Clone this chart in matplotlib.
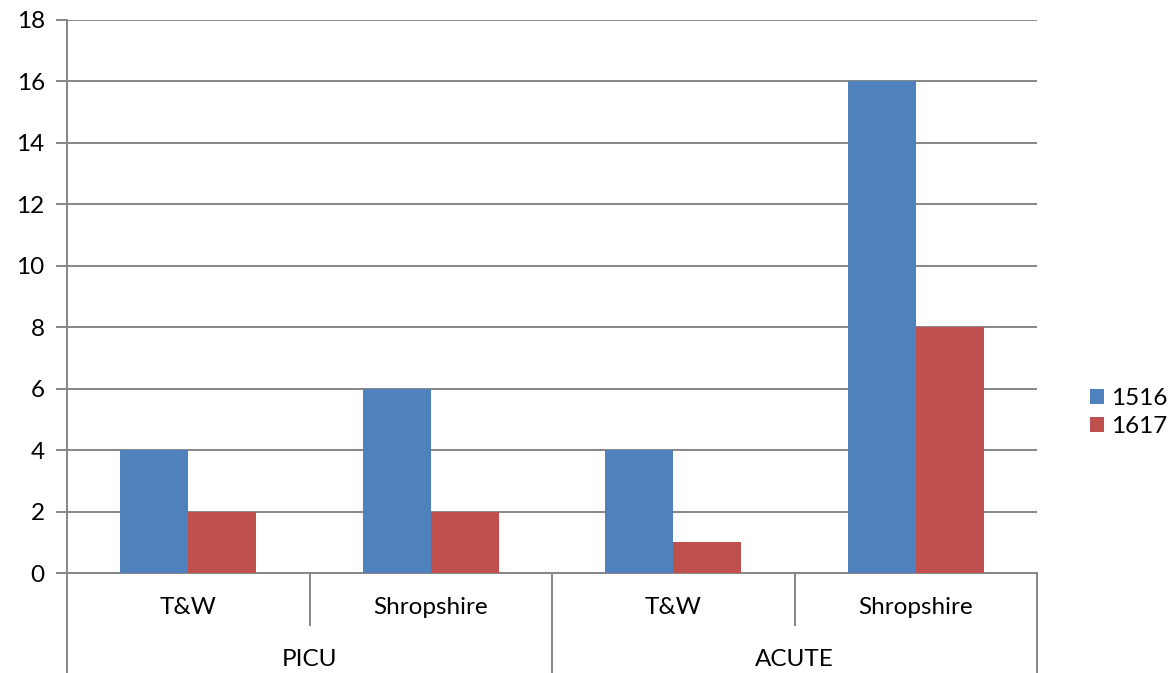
import matplotlib
matplotlib.use("Agg")
import matplotlib.pyplot as plt
import numpy as np

# Data
groups = ["PICU", "ACUTE"]
sites = ["T&W", "Shropshire", "T&W", "Shropshire"]
series_names = ["1516", "1617"]
values_1516 = [4, 6, 4, 16]
values_1617 = [2, 2, 1, 8]
colors = ["#4f81bd", "#c0504d"]
grid_color = "#868686"
fs = 17.5

plt.rcParams["font.family"] = ["Lato", "DejaVu Sans"]

fig = plt.figure(figsize=(11.72, 6.73), dpi=100)
ax = fig.add_axes([67 / 1172, 1 - 573 / 673, 970 / 1172, 553 / 673])

x = np.arange(len(sites))
w = 0.28
ax.bar(x - w / 2, values_1516, w, color=colors[0], label=series_names[0], zorder=3)
ax.bar(x + w / 2, values_1617, w, color=colors[1], label=series_names[1], zorder=3)

ax.set_xlim(-0.5, len(sites) - 0.5)
ax.set_ylim(0, 18)
ax.set_yticks(range(0, 19, 2))
ax.yaxis.grid(True, color=grid_color, linewidth=1.4, zorder=0)
ax.set_axisbelow(True)
ax.tick_params(axis="y", length=8, width=1.4, color=grid_color, labelsize=fs, pad=8)
ax.set_xticks([])

for side in ["top", "right"]:
    ax.spines[side].set_visible(False)
ax.spines["left"].set_color(grid_color)
ax.spines["left"].set_linewidth(1.4)
ax.spines["bottom"].set_color(grid_color)
ax.spines["bottom"].set_linewidth(1.4)

# Multi-level category axis
trans = ax.get_xaxis_transform()
row1 = -52 / 553
row2 = -100 / 553
for i, s in enumerate(sites):
    ax.text(i, -34 / 553, s, transform=trans, ha="center", va="center", fontsize=fs)
n_per = len(sites) // len(groups)
for g, name in enumerate(groups):
    cx = g * n_per + (n_per - 1) / 2
    ax.text(cx, -87 / 553, name, transform=trans, ha="center", va="center", fontsize=fs)

# separators
for i in range(len(sites) + 1):
    xb = i - 0.5
    y_end = row2 if i % n_per == 0 else row1
    ax.plot([xb, xb], [0, y_end], transform=trans, color=grid_color,
            linewidth=1.4, clip_on=False)

ax.legend(loc="center left", bbox_to_anchor=(1.045, 0.29), frameon=False,
          fontsize=fs, handlelength=0.55, handleheight=0.55,
          handletextpad=0.3, labelspacing=0.3, borderaxespad=0)

fig.savefig("out.png", dpi=100)
